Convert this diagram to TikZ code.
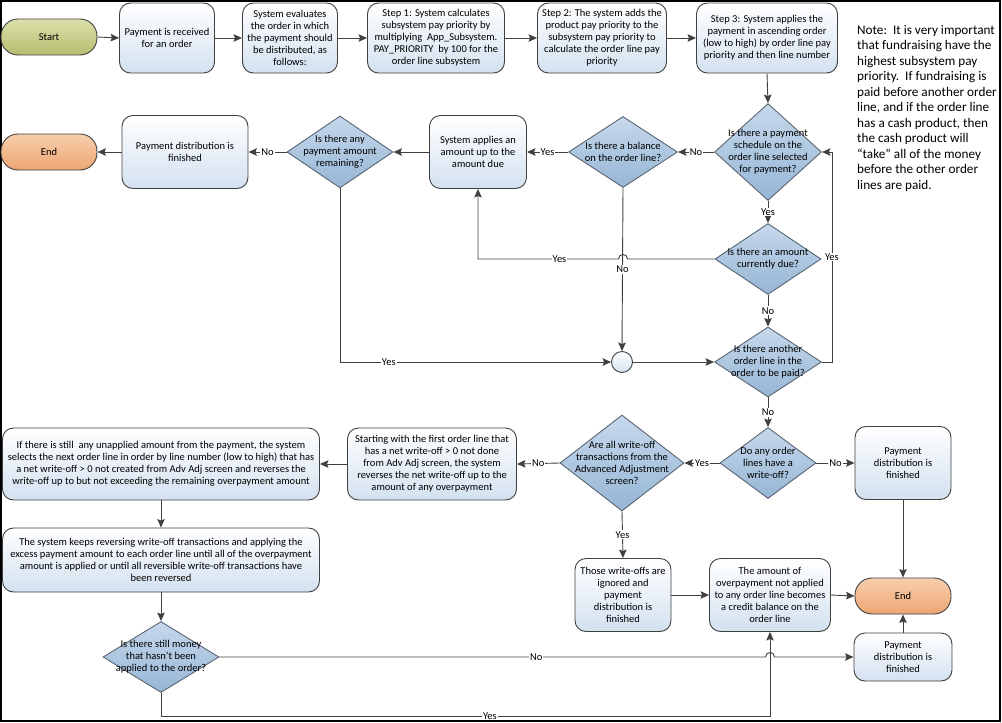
\documentclass[tikz,border=0pt]{standalone}
\usepackage{fontspec}
\setmainfont{Carlito}
\usetikzlibrary{arrows.meta,shapes.geometric,calc}
\definecolor{ln}{HTML}{404040}
\definecolor{boxb}{RGB}{211,225,240}
\definecolor{diat}{RGB}{198,216,236}
\definecolor{diab}{RGB}{150,182,213}
\definecolor{diaborder}{HTML}{5A6570}
\definecolor{startt}{RGB}{220,224,170}
\definecolor{startb}{RGB}{180,189,112}
\definecolor{endt}{RGB}{248,206,172}
\definecolor{endb}{RGB}{236,166,114}
\newcommand{\bfnt}{\fontsize{10.5}{12}\selectfont}
\tikzset{
  conn/.style={draw=ln, line width=0.9pt, -{Stealth[length=8.5pt,width=7.5pt,inset=1.5pt]}},
  box/.style={draw=ln, line width=0.9pt, rounded corners=11pt, top color=white, bottom color=boxb, align=center, inner sep=0pt, font=\bfnt},
  dia/.style={diamond, draw=diaborder, line width=0.9pt, top color=diat, bottom color=diab, inner sep=0pt},
  dtext/.style={align=center, inner sep=0pt, font=\bfnt},
  startterm/.style={draw=ln, line width=0.9pt, rounded corners=17pt, top color=startt, bottom color=startb, inner sep=0pt, font=\bfnt},
  endterm/.style={draw=ln, line width=0.9pt, rounded corners=17pt, top color=endt, bottom color=endb, inner sep=0pt, font=\bfnt},
  lab/.style={fill=white, inner sep=1pt, font=\bfnt},
}
\begin{document}
\begin{tikzpicture}[x=1pt,y=-1pt]
\useasboundingbox (0,0) rectangle (1002,723);
\draw[line width=1.5pt, black] (1,1) rectangle (1000,721);

% top row
\node[startterm, minimum width=96pt, minimum height=36pt] (start) at (49,37) {Start};
\node[box, minimum width=95pt, minimum height=70pt] (recv) at (167,38) {Payment is received\\for an order};
\node[box, minimum width=95pt, minimum height=70pt] (eval) at (290,38) {System evaluates\\the order in which\\the payment should\\be distributed, as\\follows:};
\node[box, minimum width=137pt, minimum height=70pt] (step1) at (436,38) {Step 1: System calculates\\subsystem pay priority by\\multiplying\ \ App\_Subsystem.\\PAY\_PRIORITY\ \ by 100 for the\\order line subsystem};
\node[box, minimum width=129pt, minimum height=70pt] (step2) at (602,38) {Step 2: The system adds the\\product pay priority to the\\subsystem pay priority to\\calculate the order line pay\\priority};
\node[box, minimum width=141pt, minimum height=70pt] (step3) at (767,38) {Step 3: System applies the\\payment in ascending order\\(low to high) by order line pay\\priority and then line number};
\node[anchor=north west, align=left, inner sep=0pt, font=\fontsize{13.2}{15.5}\selectfont] (note) at (857,25) {Note:\ \ It is very important\\that fundraising have the\\highest subsystem pay\\priority.\ \ If fundraising is\\paid before another order\\line, and if the order line\\has a cash product, then\\the cash product will\\“take” all of the money\\before the other order\\lines are paid.};

% second row
\node[endterm, minimum width=96pt, minimum height=36pt] (end1) at (49,152) {End};
\node[box, minimum width=126pt, minimum height=73pt] (fin1) at (185,152) {Payment distribution is\\finished};
\node[dia, minimum width=106pt, minimum height=72pt] (remain) at (340,152) {};
\node[dtext] (remain-t) at (remain) {Is there any\\payment amount\\remaining?};
\node[box, minimum width=97pt, minimum height=73pt] (apply) at (478,152) {System applies an\\amount up to the\\amount due};
\node[dia, minimum width=109pt, minimum height=71pt] (bal) at (623,152) {};
\node[dtext] (bal-t) at (bal) {Is there a balance\\on the order line?};
\node[dia, minimum width=107pt, minimum height=97pt] (sched) at (768,152) {};
\node[dtext] (sched-t) at (sched) {Is there a payment\\schedule on the\\order line selected\\for payment?};
\node[dia, minimum width=106pt, minimum height=71pt] (due) at (768,259) {};
\node[dtext] (due-t) at (due) {Is there an amount\\currently due?};
\node[circle, draw=ln, line width=0.9pt, top color=white, bottom color=boxb, minimum size=21pt, inner sep=0pt] (circ) at (622,362) {};
\node[dia, minimum width=107pt, minimum height=70pt] (another) at (768,362) {};
\node[dtext] (another-t) at (another) {Is there another\\order line in the\\order to be paid?};

% write-off row
\node[dia, minimum width=96pt, minimum height=71pt] (anywo) at (768,463) {};
\node[dtext] (anywo-t) at (anywo) {Do any order\\lines have a\\write-off?};
\node[box, minimum width=96pt, minimum height=73pt] (fin2) at (903,463) {Payment\\distribution is\\finished};
\node[dia, minimum width=124pt, minimum height=96pt] (allwo) at (622,463) {};
\node[dtext] (allwo-t) at (allwo) {Are all write-off\\transactions from the\\Advanced Adjustment\\screen?};
\node[box, minimum width=169pt, minimum height=72pt] (start2) at (432,464) {Starting with the first order line that\\has a net write-off > 0 not done\\from Adv Adj screen, the system\\reverses the net write-off up to the\\amount of any overpayment};
\node[box, minimum width=317pt, minimum height=72pt] (ifstill) at (161,464) {If there is still\ \ any unapplied amount from the payment, the system\\selects the next order line in order by line number (low to high) that has\\a net write-off > 0 not created from Adv Adj screen and reverses the\\write-off up to but not exceeding the remaining overpayment amount};
\node[box, minimum width=317pt, minimum height=64pt] (keeps) at (161,560) {The system keeps reversing write-off transactions and applying the\\excess payment amount to each order line until all of the overpayment\\amount is applied or until all reversible write-off transactions have\\been reversed};
\node[dia, minimum width=116pt, minimum height=71pt] (money) at (161,657) {};
\node[dtext] (money-t) at (money) {Is there still money\\that hasn’t been\\applied to the order?};

\node[box, minimum width=96pt, minimum height=73pt] (ignored) at (623,595) {Those write-offs are\\ignored and\\payment\\distribution is\\finished};
\node[box, minimum width=121pt, minimum height=73pt] (credit) at (770,595) {The amount of\\overpayment not applied\\to any order line becomes\\a credit balance on the\\order line};
\node[endterm, minimum width=96pt, minimum height=36pt] (end2) at (903,596) {End};
\node[box, minimum width=98pt, minimum height=48pt] (fin3) at (903,657) {Payment\\distribution is\\finished};

% connectors top row
\draw[conn] (start.east) -- (recv.west);
\draw[conn] (recv.east) -- (eval.west);
\draw[conn] (eval.east) -- (step1.west);
\draw[conn] (step1.east) -- (step2.west);
\draw[conn] (step2.east) -- (step3.west);
\draw[conn] (step3.south) -- (sched.north);

% second row
\draw[conn] (sched.west) -- node[lab]{No} (bal.east);
\draw[conn] (bal.west) -- node[lab]{Yes} (apply.east);
\draw[conn] (apply.west) -- (remain.east);
\draw[conn] (remain.west) -- node[lab]{No} (fin1.east);
\draw[conn] (fin1.west) -- (end1.east);
\draw[conn] (sched.south) -- node[lab]{Yes} (due.north);
\draw[conn] (due.south) -- node[lab]{No} (another.north);
\draw[conn] (bal.south) -- node[lab]{No} (circ.north);
\coordinate (h1) at (bal.south |- due.west);
\draw[conn] (due.west) -- ($(h1)+(4.5,0)$) .. controls ($(h1)+(4.5,-6)$) and ($(h1)+(-4.5,-6)$) .. ($(h1)+(-4.5,0)$) -| node[lab,pos=0.21]{Yes} (apply.south);
\draw[conn] (remain.south) |- node[lab,pos=0.59]{Yes} (circ.west);
\draw[conn] (circ.east) -- (another.west);
\draw[conn] (another.east) -- ++(10,0) |- node[lab,pos=0.25]{Yes} (sched.east);

% write-off part
\draw[conn] (another.south) -- node[lab]{No} (anywo.north);
\draw[conn] (anywo.east) -- node[lab]{No} (fin2.west);
\draw[conn] (anywo.west) -- node[lab]{Yes} (allwo.east);
\draw[conn] (allwo.west) -- node[lab]{No} (start2.east);
\draw[conn] (start2.west) -- (ifstill.east);
\draw[conn] (ifstill.south) -- (keeps.north);
\draw[conn] (keeps.south) -- (money.north);
\draw[conn] (allwo.south) -- node[lab]{Yes} (ignored.north);
\draw[conn] (ignored.east) -- (credit.west);
\draw[conn] (credit.east) -- (end2.west);
\draw[conn] (fin2.south) -- (end2.north);
\draw[conn] (fin3.north) -- (end2.south);
\coordinate (h2) at (credit.south |- money.east);
\draw[conn] (money.east) -- node[lab,pos=0.58]{No} ($(h2)+(-4.5,0)$) .. controls ($(h2)+(-4.5,-6)$) and ($(h2)+(4.5,-6)$) .. ($(h2)+(4.5,0)$) -- (fin3.west);
\draw[conn] (money.south) -- ++(0,23) -| node[lab,pos=0.27]{Yes} (credit.south);
\end{tikzpicture}
\end{document}
